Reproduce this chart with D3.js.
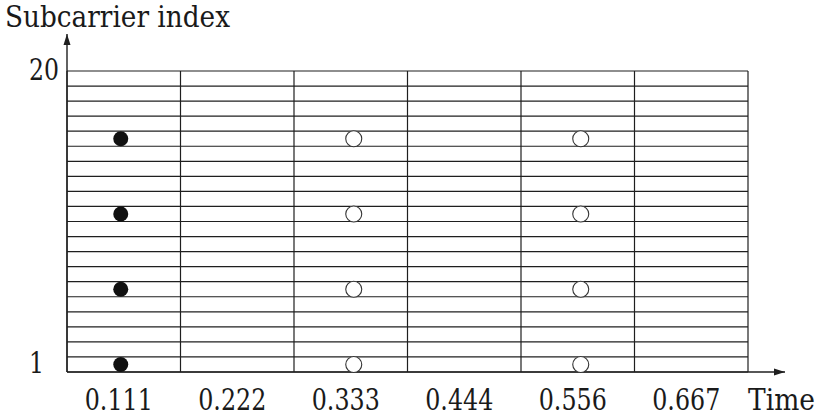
<!DOCTYPE html>
<html>
<head>
<meta charset="utf-8">
<script src="https://cdn.jsdelivr.net/npm/d3@7"></script>
<style>
  html, body { margin: 0; padding: 0; background: #fff; }
  svg { display: block; }
</style>
</head>
<body>
<svg id="chart" width="820" height="417"></svg>
<script>
// Time slots (column labels) and subcarrier grid
const timeSlots = [0.111, 0.222, 0.333, 0.444, 0.556, 0.667];
const subcarriers = d3.range(1, 21);
const yTickLabels = [1, 20];

// Pilot positions: filled in the first slot, hollow in later slots
const pilotSubcarriers = [1, 6, 11, 16];
const filledSlots = [0.111];
const hollowSlots = [0.333, 0.556];

const gridLeft = 67, gridRight = 748, gridTop = 71, gridBottom = 372;
const fontSize = 30;
const fontFamily = "'DejaVu Serif', serif";
const ink = "#1f1f1f";

const svg = d3.select("#chart");

const x = d3.scaleBand().domain(timeSlots).range([gridLeft, gridRight]).paddingInner(0).paddingOuter(0);
const y = d3.scaleBand().domain(subcarriers).range([gridBottom, gridTop]).paddingInner(0).paddingOuter(0);
const cx = t => x(t) + x.bandwidth() / 2;
const cy = s => y(s) + y.bandwidth() / 2;

// Horizontal row lines (band edges)
const hEdges = Array.from(new Set(subcarriers.map(s => y(s) + y.bandwidth()).concat([y(20)])));
svg.append("g")
  .selectAll("line")
  .data(hEdges)
  .join("line")
  .attr("x1", gridLeft).attr("x2", gridRight)
  .attr("y1", d => d).attr("y2", d => d)
  .attr("stroke", ink).attr("stroke-width", 1.2);

// Vertical column lines
const vEdges = timeSlots.map(t => x(t)).concat([x(timeSlots[timeSlots.length - 1]) + x.bandwidth()]);
svg.append("g")
  .selectAll("line")
  .data(vEdges)
  .join("line")
  .attr("x1", d => d).attr("x2", d => d)
  .attr("y1", gridTop).attr("y2", gridBottom)
  .attr("stroke", ink).attr("stroke-width", 1.2);

// Axes with arrowheads
const defs = svg.append("defs");
defs.append("marker")
  .attr("id", "arrow")
  .attr("viewBox", "0 0 10 10")
  .attr("refX", 10).attr("refY", 5)
  .attr("markerWidth", 11).attr("markerHeight", 11)
  .attr("markerUnits", "userSpaceOnUse")
  .attr("orient", "auto")
  .append("path")
  .attr("d", "M0,1.8 L10,5 L0,8.2 Z")
  .attr("fill", ink);

svg.append("line")
  .attr("x1", gridLeft).attr("y1", gridBottom)
  .attr("x2", 785).attr("y2", gridBottom)
  .attr("stroke", ink).attr("stroke-width", 1.4)
  .attr("marker-end", "url(#arrow)");

svg.append("line")
  .attr("x1", gridLeft).attr("y1", gridBottom)
  .attr("x2", gridLeft).attr("y2", 34)
  .attr("stroke", ink).attr("stroke-width", 1.4)
  .attr("marker-end", "url(#arrow)");

// Pilot markers
const filledData = filledSlots.flatMap(t => pilotSubcarriers.map(s => ({ t, s })));
const hollowData = hollowSlots.flatMap(t => pilotSubcarriers.map(s => ({ t, s })));

svg.append("g")
  .selectAll("circle")
  .data(filledData)
  .join("circle")
  .attr("cx", d => cx(d.t) - 3)
  .attr("cy", d => cy(d.s))
  .attr("r", 7.5)
  .attr("fill", "#111");

svg.append("g")
  .selectAll("circle")
  .data(hollowData)
  .join("circle")
  .attr("cx", d => cx(d.t) + 3)
  .attr("cy", d => cy(d.s))
  .attr("r", 8)
  .attr("fill", "#fff")
  .attr("stroke", "#333")
  .attr("stroke-width", 1.1);

const textLayer = svg.append("g")
  .attr("font-family", fontFamily)
  .attr("font-size", fontSize)
  .attr("font-weight", 300)
  .attr("fill", "#1a1a1a");

// Time tick labels
textLayer.append("g")
  .selectAll("text")
  .data(timeSlots)
  .join("text")
  .attr("x", d => cx(d) - 5)
  .attr("y", 410)
  .attr("font-size", 29)
  .attr("text-anchor", "middle")
  .attr("textLength", 68)
  .attr("lengthAdjust", "spacingAndGlyphs")
  .text(d => d3.format(".3f")(d));

// Subcarrier tick labels
textLayer.append("g")
  .selectAll("text")
  .data(yTickLabels)
  .join("text")
  .attr("x", 29)
  .attr("y", d => (d === 1 ? cy(d) : y(d)) + 8.5)
  .attr("text-anchor", "start")
  .attr("textLength", d => (d === 1 ? 15 : 30))
  .attr("lengthAdjust", "spacingAndGlyphs")
  .text(d => d);

// Axis titles
textLayer.append("text")
  .attr("x", 748).attr("y", 410)
  .attr("font-size", 29)
  .attr("textLength", 67)
  .attr("lengthAdjust", "spacingAndGlyphs")
  .text("Time");

textLayer.append("text")
  .attr("x", 5).attr("y", 27)
  .attr("textLength", 225)
  .attr("lengthAdjust", "spacingAndGlyphs")
  .text("Subcarrier index");
</script>
</body>
</html>
